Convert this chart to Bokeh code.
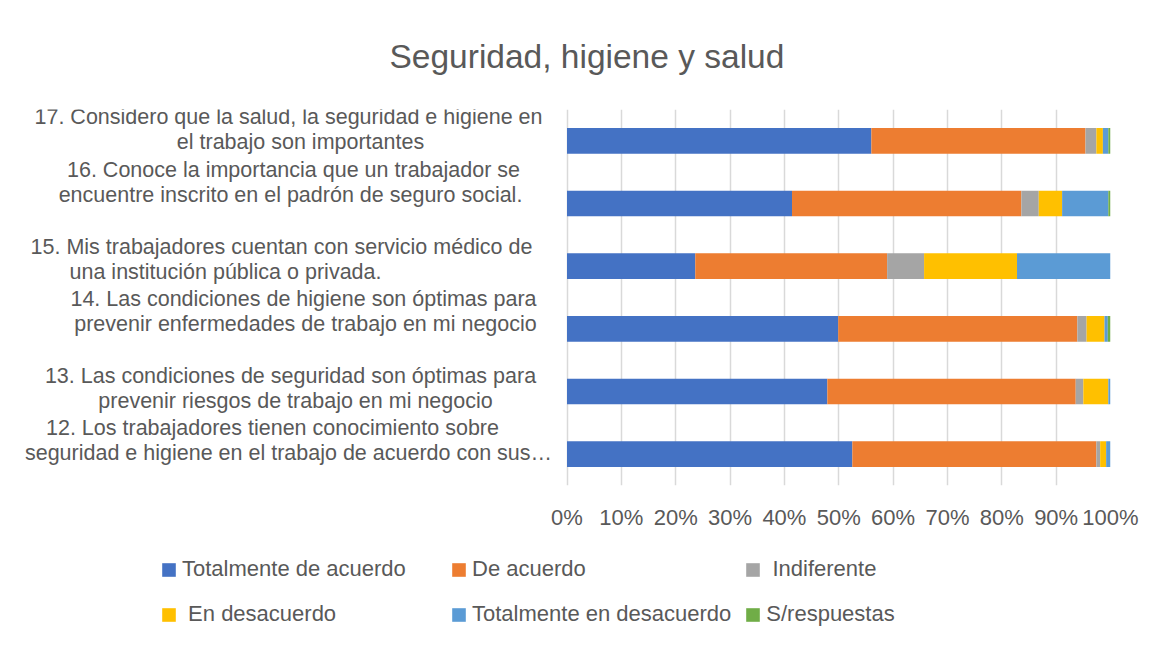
from bokeh.plotting import figure
from bokeh.layouts import column
from bokeh.models import (FactorRange, Range1d, Legend, LegendItem,
                          NumeralTickFormatter, FixedTicker, ColumnDataSource)
from bokeh.core.properties import value
from bokeh.embed import file_html
from bokeh.resources import INLINE

# ---------------- data ----------------
categories = ["12", "13", "14", "15", "16", "17"]  # bottom to top
question_line1 = [
    "12. Los trabajadores tienen conocimiento sobre",
    "13. Las condiciones de seguridad son óptimas para",
    "14. Las condiciones de higiene son óptimas para",
    "15. Mis trabajadores cuentan con servicio médico de",
    "16. Conoce la importancia que un trabajador se",
    "17. Considero que la salud, la seguridad e higiene en",
]
question_line2 = [
    "seguridad e higiene en el trabajo de acuerdo con sus…",
    "prevenir riesgos de trabajo en mi negocio",
    "prevenir enfermedades de trabajo en mi negocio",
    "una institución pública o privada.",
    "encuentre inscrito en el padrón de seguro social.",
    "el trabajo son importantes",
]
series_names = ["Totalmente de acuerdo", "De acuerdo", " Indiferente",
                " En desacuerdo", "Totalmente en desacuerdo", "S/respuestas"]
totalmente_de_acuerdo = [52.5, 47.9, 49.9, 23.6, 41.4, 56.0]
de_acuerdo = [44.9, 45.7, 44.0, 35.3, 42.2, 39.4]
indiferente = [0.7, 1.4, 1.7, 6.8, 3.2, 2.0]
en_desacuerdo = [1.1, 4.6, 3.3, 17.1, 4.3, 1.2]
totalmente_en_desacuerdo = [0.8, 0.4, 0.6, 17.2, 8.5, 1.0]
s_respuestas = [0.0, 0.0, 0.5, 0.0, 0.4, 0.4]
x_ticks = [0, 0.1, 0.2, 0.3, 0.4, 0.5, 0.6, 0.7, 0.8, 0.9, 1.0]
title_text = "Seguridad, higiene y salud"

# ---------------- style / layout ----------------
colors = ["#4472C4", "#ED7D31", "#A5A5A5", "#FFC000", "#5B9BD5", "#70AD47"]
TXT = "#595959"
FONT = "Liberation Sans"

W = 1142
H1, H2 = 540, 90
X0 = 566.5                 # pixel of 0 %
X1 = 1110.0                # pixel of 100 %
FT, FH = 106, 379          # frame top / height

p = figure(width=W, height=H1, output_backend="svg", toolbar_location=None,
           y_range=FactorRange(*categories, range_padding=0),
           x_range=Range1d(-X0 / (X1 - X0), 1.0),
           min_border_left=0, min_border_right=W - int(X1),
           min_border_top=FT, min_border_bottom=H1 - FT - FH)
p.outline_line_color = None
p.background_fill_color = "white"
p.border_fill_color = "white"

series = [totalmente_de_acuerdo, de_acuerdo, indiferente, en_desacuerdo,
          totalmente_en_desacuerdo, s_respuestas]
data = {"cat": categories}
keys = []
for i, s in enumerate(series):
    k = f"s{i}"
    keys.append(k)
    data[k] = [v / 100.0 for v in s]
source = ColumnDataSource(data)

p.hbar_stack(keys, y="cat", height=0.41, color=colors, source=source,
             line_color=None)

# axes
p.yaxis.visible = False
p.ygrid.grid_line_color = None
p.xaxis.ticker = FixedTicker(ticks=x_ticks)
p.xaxis.formatter = NumeralTickFormatter(format="0%")
p.xaxis.axis_line_color = None
p.xaxis.major_tick_line_color = None
p.xaxis.minor_tick_line_color = None
p.xaxis.major_label_standoff = 13
p.xaxis.major_label_text_font = FONT
p.xaxis.major_label_text_font_size = "22px"
p.xaxis.major_label_text_color = TXT
p.xgrid.ticker = FixedTicker(ticks=x_ticks)
p.xgrid.grid_line_color = "#D9D9D9"
p.xgrid.grid_line_width = 1.5


def px_to_x(px):
    return (px - X0) / (X1 - X0)


# question labels: two centred lines per category
line1_center_px = [272, 290, 303, 281, 293, 288]
line2_center_px = [288, 295, 305, 225, 290, 300]
block_shift_up = [14, 3, 17, 7, 21, 11]
lab = {"y": [], "x": [], "text": [], "yoff": []}
for cat, l1, l2, c1, c2, up in zip(categories, question_line1, question_line2,
                                   line1_center_px, line2_center_px,
                                   block_shift_up):
    for txt, cx, dy in ((l1, c1, 12.5), (l2, c2, -12.5)):
        lab["y"].append(cat)
        lab["x"].append(px_to_x(cx))
        lab["text"].append(txt)
        lab["yoff"].append(-(up + dy))
p.text(x="x", y="y", text="text", y_offset="yoff", source=ColumnDataSource(lab),
       text_align="center", text_baseline="middle",
       text_font=value(FONT), text_font_size=value("21.5px"), text_color=TXT)

# title
p.title.text = title_text
p.title.align = "left"
p.title.offset = 389
p.title.standoff = 70
p.title.text_font = FONT
p.title.text_font_size = "33.5px"
p.title.text_font_style = "normal"
p.title.text_color = TXT

# legend in its own strip below (same stacked bars; their factors are not in
# this strip's range, so only the legend shows)
p2 = figure(width=W, height=H2, output_backend="svg", toolbar_location=None,
            x_range=Range1d(2, 3), y_range=FactorRange("legend"),
            x_axis_type=None, y_axis_type=None,
            min_border_left=0, min_border_right=0,
            min_border_top=0, min_border_bottom=0)
p2.outline_line_color = None
p2.grid.visible = False
legend_renderers = p2.hbar_stack(keys, y="cat", height=0.41, color=colors,
                                 source=source, line_color=None)
items = [LegendItem(label=n, renderers=[r])
         for n, r in zip(series_names, legend_renderers)]
legend = Legend(items=items, ncols=3, orientation="horizontal",
                location=(160, 0),
                glyph_width=17, glyph_height=17, label_standoff=5,
                label_width=255, label_height=32, spacing=13,
                padding=0, margin=0, border_line_color=None,
                background_fill_alpha=0,
                label_text_font=FONT, label_text_font_size="22px",
                label_text_color=TXT)
p2.add_layout(legend, "center")

layout = column(p, p2, spacing=0)
open("out.html", "w").write(file_html(layout, INLINE))
